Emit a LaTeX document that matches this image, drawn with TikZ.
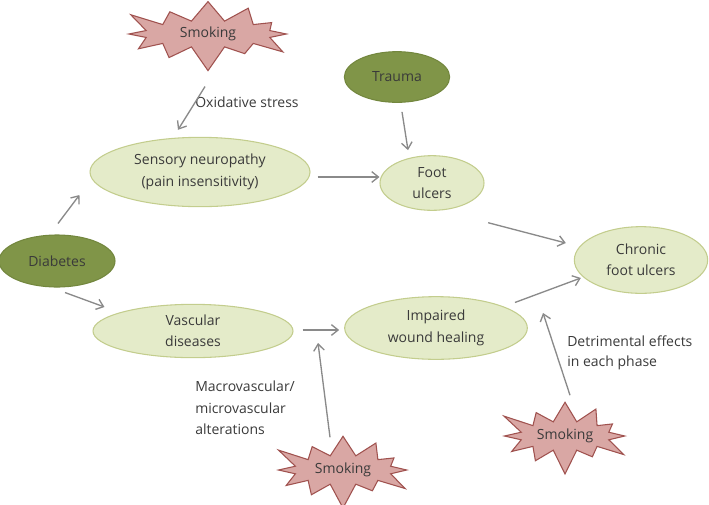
\documentclass[tikz,border=0pt]{standalone}
\usepackage{fontspec}
\setmainfont{Open Sans}
\usepackage{xcolor}
\usetikzlibrary{shapes.geometric,shapes.symbols,arrows.meta}
\definecolor{paleleaf}{HTML}{E4EBC9}
\definecolor{paleedge}{HTML}{C3CD8D}
\definecolor{darkleaf}{HTML}{809548}
\definecolor{darkedge}{HTML}{73873E}
\definecolor{smokefill}{HTML}{D9A7A4}
\definecolor{smokeedge}{HTML}{A0524F}
\definecolor{linkgray}{HTML}{8A8A8A}
\definecolor{ink}{HTML}{3A3A3A}

\begin{document}
\begin{tikzpicture}[x=0.75pt,y=-0.75pt,>={Straight Barb[length=5pt,width=8pt]},
  every node/.style={font=\fontsize{10.5}{16}\selectfont,text=ink,align=center},
  light/.style={ellipse,draw=paleedge,fill=paleleaf,line width=0.8pt,inner sep=0pt},
  dark/.style={ellipse,draw=darkedge,fill=darkleaf,line width=0.8pt,inner sep=0pt},
  smokestar/.style={starburst,starburst points=12,starburst point height=20pt,
    draw=smokeedge,fill=smokefill,line width=0.8pt,inner sep=0pt},
  lbl/.style={anchor=west,align=left,inner sep=0pt},
  arr/.style={->,draw=linkgray,line width=1pt}]
\useasboundingbox (0,0) rectangle (709,504);
% causes
\node[smokestar,minimum width=136pt,minimum height=60pt] (smk1) at (208,34) {Smoking};
\node[smokestar,minimum width=108pt,minimum height=62pt] (smk2) at (565,436) {Smoking};
\node[smokestar,minimum width=114pt,minimum height=62pt] (smk3) at (343,470) {Smoking};
\node[dark,minimum width=79pt,minimum height=38pt] (trauma) at (397,77) {Trauma};
\node[dark,minimum width=87pt,minimum height=39pt] (diab) at (57,261) {Diabetes};
% effects
\node[light,minimum width=165pt,minimum height=52pt] (sens) at (200,172) {Sensory neuropathy\\(pain insensitivity)};
\node[light,minimum width=78pt,minimum height=41pt] (foot) at (432,183) {Foot\\ulcers};
\node[light,minimum width=150pt,minimum height=40pt] (vasc) at (193,331) {Vascular\\diseases};
\node[light,minimum width=137pt,minimum height=47pt] (heal) at (436,328) {Impaired\\wound healing};
\node[light,minimum width=100pt,minimum height=50pt] (chronic) at (641,260) {Chronic\\foot ulcers};
% labels
\node[lbl] (oxlbl) at (195,102) {Oxidative stress};
\node[lbl] (mvlbl) at (195,408) {Macrovascular/\\microvascular\\alterations};
\node[lbl,font=\fontsize{10.5}{15}\selectfont] (detlbl) at (567,353) {Detrimental effects\\in each phase};
\coordinate (healin) at (318,343);
\coordinate (phase) at (543,313);
% links
\draw[arr] ([shift={(-3,15)}]smk1.south) -- ([shift={(-22,-7)}]sens.north);
\draw[arr] ([shift={(5,9)}]trauma.south) -- ([shift={(-24,-5)}]foot.north);
\draw[arr] ([shift={(7,5)}]sens.east) -- ([shift={(0,-6)}]foot.west);
\draw[arr] ([shift={(1,-11)}]diab.north) -- ([shift={(-10,23)}]sens.west);
\draw[arr] ([shift={(8,5)}]diab.south) -- ([shift={(12,-24)}]vasc.west);
\draw[arr] ([shift={(9,-1)}]vasc.east) -- ([shift={(-5,2)}]heal.west);
\draw[arr] ([shift={(-13,2)}]smk3.north) -- (healin);
\draw[arr] ([shift={(19,20)}]foot.south east) -- ([shift={(-8,-17)}]chronic.west);
\draw[arr] ([shift={(14,-3)}]heal.north east) -- ([shift={(7,18)}]chronic.west);
\draw[arr] ([shift={(5,-6)}]smk2.north) -- (phase);
\end{tikzpicture}
\end{document}
